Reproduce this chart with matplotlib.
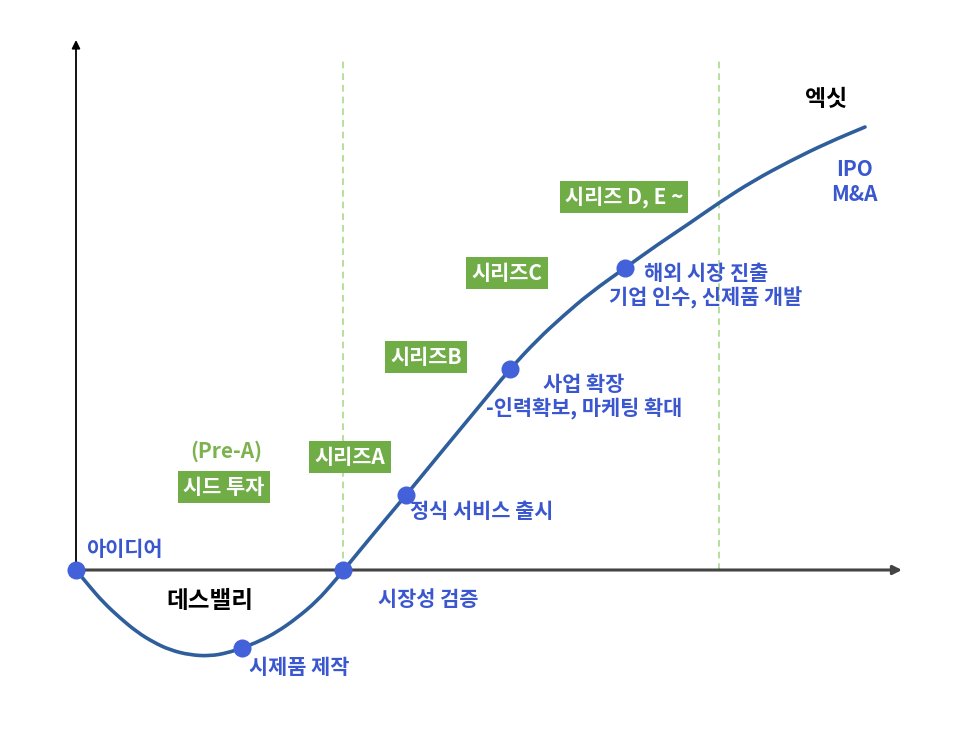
import matplotlib.pyplot as plt
from matplotlib.path import Path
from matplotlib.patches import PathPatch

plt.rcParams['font.family'] = ['Noto Sans CJK KR', 'DejaVu Sans']

# curve (x = stage, y = value, origin at axis crossing)
curve_x = [0, 14, 27, 44, 61, 77, 94, 114, 134, 151, 166, 184, 201, 221, 241, 257, 267,
           299, 331, 367, 401, 434, 461, 487, 514, 549, 581, 614, 644, 677, 714, 751, 789]
curve_y = [0, -17, -32, -48, -62, -72, -80, -85, -86, -83, -78, -71, -62, -48, -31, -13, -1,
           38, 76, 120, 161, 201, 230, 254, 277, 302, 325, 347, 368, 389, 409, 427, 443]

# milestones on the curve
dot_x = [0, 166, 267, 330, 434, 549]
dot_y = [0, -78, 0, 75, 201, 302]

# milestone labels (text, x, y)
labels = [
    ('아이디어', 48, 20),
    ('시제품 제작', 223, -98),
    ('시장성 검증', 352, -30),
    ('정식 서비스 출시', 406, 58),
    ('사업 확장\n-인력확보, 마케팅 확대', 508, 173),
    ('해외 시장 진출\n기업 인수, 신제품 개발', 630, 284),
    ('IPO\nM&A', 778, 388),
]

# investment rounds (green boxes)
rounds = [
    ('시드 투자', 148, 83),
    ('시리즈A', 274, 113),
    ('시리즈B', 350, 213),
    ('시리즈C', 431, 297),
    ('시리즈 D, E ~', 548, 373),
]

stage_lines = [267, 643]

blue = '#3B57CF'
green = '#70AD47'

fig = plt.figure(figsize=(9.66, 7.47), dpi=100)
ax = fig.add_axes([0, 0, 1, 1])
ax.set_xlim(-76, 890)
ax.set_ylim(-177, 570)
ax.axis('off')

# stage separators
for sx in stage_lines:
    ax.plot([sx, sx], [0, 510], color='#A9D98B', lw=1.2, ls=(0, (4, 3)), zorder=1)

# axes with arrows
ax.annotate('', xy=(826, 0), xytext=(0, 0),
            arrowprops=dict(arrowstyle='-|>', color='#444444', lw=2.2,
                            mutation_scale=13, shrinkA=0, shrinkB=0), zorder=2)
ax.annotate('', xy=(0, 530), xytext=(0, 0),
            arrowprops=dict(arrowstyle='-|>', color='black', lw=1.3,
                            mutation_scale=12, shrinkA=0, shrinkB=0), zorder=2)

# smooth the read points with quadratic bezier segments
pts = list(zip(curve_x, curve_y))
verts = [pts[0], ((pts[0][0] + pts[1][0]) / 2, (pts[0][1] + pts[1][1]) / 2)]
codes = [Path.MOVETO, Path.LINETO]
for i in range(1, len(pts) - 1):
    nxt = ((pts[i][0] + pts[i + 1][0]) / 2, (pts[i][1] + pts[i + 1][1]) / 2)
    verts += [pts[i], nxt]
    codes += [Path.CURVE3, Path.CURVE3]
verts.append(pts[-1])
codes.append(Path.LINETO)
ax.add_patch(PathPatch(Path(verts, codes), fc='none', ec='#2F5E9C', lw=2.6,
                       capstyle='round', zorder=3))

ax.plot(dot_x, dot_y, 'o', color='#4361D8', ms=13, mec='none', zorder=4)

for txt, x, y in labels:
    ax.text(x, y, txt, color=blue, fontsize=15, fontweight='bold',
            ha='center', va='center', linespacing=1.2, zorder=5)

for txt, x, y in rounds:
    ax.text(x, y, txt, color='white', fontsize=15, fontweight='bold',
            ha='center', va='center', zorder=5,
            bbox=dict(boxstyle='square,pad=0.25', fc=green, ec='none'))

ax.text(150, 119, '(Pre-A)', color='#7DB24F', fontsize=15, fontweight='bold',
        ha='center', va='center')
ax.text(134, -31, '데스밸리', color='black', fontsize=17, fontweight='bold',
        ha='center', va='center')
ax.text(750, 470, '엑싯', color='black', fontsize=16.5, fontweight='bold',
        ha='center', va='center')

fig.savefig('out.png', dpi=100)
